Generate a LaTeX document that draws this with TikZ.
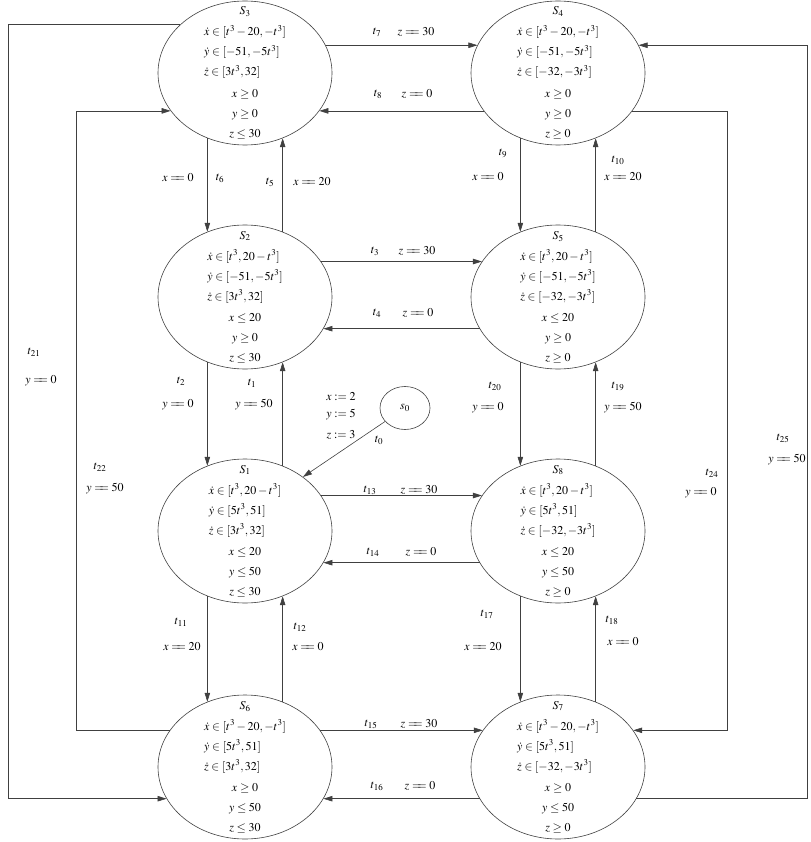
\documentclass[tikz,border=0pt]{standalone}
\usepackage{mathptmx}
\usetikzlibrary{shapes.geometric,arrows.meta,calc}
\newcommand\eqq{\mathrel{=\mkern-6mu=}}
\tikzset{
  st/.style={draw=black!75, line width=0.6pt, ellipse, minimum width=174pt, minimum height=144pt, inner sep=0pt},
  stxt/.style={anchor=base, inner sep=0pt, font=\fontsize{12}{20}\selectfont},
  lab/.style={inner sep=0pt, font=\fontsize{12}{14}\selectfont},
  arr/.style={-{Triangle[length=9pt,width=5.5pt]}, line width=0.6pt, draw=black!75},
  zero/.style={draw=black!75, line width=0.6pt, ellipse, minimum width=50pt, minimum height=43pt, inner sep=0pt, font=\fontsize{12}{14}\selectfont}
}
\newcommand\mkstate[9]{%
  \node[st] (#1) at #2 {};
  \node[stxt] (#1t) at ($(#1.center)+(0,-58)$) {\begin{tabular}[t]{@{}l@{}}
    \multicolumn{1}{@{}c@{}}{$#3$}\\[1pt]
    $#4$\\ $#5$\\ $#6$\\[1.5pt]
    \multicolumn{1}{@{}c@{}}{$#7$}\\ \multicolumn{1}{@{}c@{}}{$#8$}\\ \multicolumn{1}{@{}c@{}}{$#9$}
  \end{tabular}};
}
\begin{document}
\begin{tikzpicture}[x=1pt,y=-1pt]
\useasboundingbox (0,0) rectangle (810,842);
% states
\mkstate{S3}{(245,73)}{S_3}{\dot x\in[t^3-20,-t^3]}{\dot y\in[-51,-5t^3]}{\dot z\in[3t^3,32]}{x\ge 0}{y\ge 0}{z\le 30}
\mkstate{S4}{(558,73)}{S_4}{\dot x\in[t^3-20,-t^3]}{\dot y\in[-51,-5t^3]}{\dot z\in[-32,-3t^3]}{x\ge 0}{y\ge 0}{z\ge 0}
\mkstate{S2}{(245,297)}{S_2}{\dot x\in[t^3,20-t^3]}{\dot y\in[-51,-5t^3]}{\dot z\in[3t^3,32]}{x\le 20}{y\ge 0}{z\le 30}
\mkstate{S5}{(558,297)}{S_5}{\dot x\in[t^3,20-t^3]}{\dot y\in[-51,-5t^3]}{\dot z\in[-32,-3t^3]}{x\le 20}{y\ge 0}{z\ge 0}
\mkstate{S1}{(245,531)}{S_1}{\dot x\in[t^3,20-t^3]}{\dot y\in[5t^3,51]}{\dot z\in[3t^3,32]}{x\le 20}{y\le 50}{z\le 30}
\mkstate{S8}{(558,531)}{S_8}{\dot x\in[t^3,20-t^3]}{\dot y\in[5t^3,51]}{\dot z\in[-32,-3t^3]}{x\le 20}{y\le 50}{z\ge 0}
\mkstate{S6}{(245,767)}{S_6}{\dot x\in[t^3-20,-t^3]}{\dot y\in[5t^3,51]}{\dot z\in[3t^3,32]}{x\ge 0}{y\le 50}{z\le 30}
\mkstate{S7}{(558,767)}{S_7}{\dot x\in[t^3-20,-t^3]}{\dot y\in[5t^3,51]}{\dot z\in[-32,-3t^3]}{x\ge 0}{y\le 50}{z\ge 0}
\node[zero] (s0) at (405,408) {$s_0$};
% outer corner coordinates
\coordinate (L21) at (8,0);
\coordinate (L22) at (76,0);
\coordinate (L24) at (727,0);
\coordinate (L25) at (807,0);
% horizontal edges
\draw[arr] (S3.19) -- (S4.161);
\draw[arr] (S4.207) -- (S3.333);
\draw[arr] (S2.25) -- (S5.155);
\draw[arr] (S5.202) -- (S2.338);
\draw[arr] (S1.25) -- (S8.155);
\draw[arr] (S8.202) -- (S1.338);
\draw[arr] (S6.26) -- (S7.154);
\draw[arr] (S7.202) -- (S6.338);
% vertical edges
\draw[arr] (S3.240) -- (S2.120);
\draw[arr] (S2.60) -- (S3.300);
\draw[arr] (S2.240) -- (S1.120);
\draw[arr] (S1.60) -- (S2.300);
\draw[arr] (S1.240) -- (S6.120);
\draw[arr] (S6.60) -- (S1.300);
\draw[arr] (S4.240) -- (S5.120);
\draw[arr] (S5.60) -- (S4.300);
\draw[arr] (S5.240) -- (S8.120);
\draw[arr] (S8.60) -- (S5.300);
\draw[arr] (S8.240) -- (S7.120);
\draw[arr] (S7.60) -- (S8.300);
% outer loops
\draw[arr] (S3.143) -- (S3.143 -| L21) -- (S6.202 -| L21) -- (S6.202);
\draw[arr] (S6.154) -- (S6.154 -| L22) -- (S3.207 -| L22) -- (S3.207);
\draw[arr] (S4.333) -- (S4.333 -| L24) -- (S7.26 -| L24) -- (S7.26);
\draw[arr] (S7.338) -- (S7.338 -| L25) -- (S4.19 -| L25) -- (S4.19);
% initial
\draw[arr] (s0) -- (S1.43);
% labels
\node[lab] (a7) at (377,32) {$t_7$};   \node[lab] (b7) at (416,32) {$z\eqq 30$};
\node[lab] (a8) at (378,94) {$t_8$};   \node[lab] (b8) at (417,94) {$z\eqq 0$};
\node[lab] (a3) at (375,251) {$t_3$};  \node[lab] (b3) at (417,251) {$z\eqq 30$};
\node[lab] (a4) at (377,313) {$t_4$};  \node[lab] (b4) at (418,313) {$z\eqq 0$};
\node[lab] (a13) at (370,490) {$t_{13}$}; \node[lab] (b13) at (419,490) {$z\eqq 30$};
\node[lab] (a14) at (373,552) {$t_{14}$}; \node[lab] (b14) at (421,552) {$z\eqq 0$};
\node[lab] (a15) at (371,724) {$t_{15}$}; \node[lab] (b15) at (419,724) {$z\eqq 30$};
\node[lab] (a16) at (377,786) {$t_{16}$}; \node[lab] (b16) at (420,786) {$z\eqq 0$};
\node[lab] (b6) at (178,178) {$x\eqq 0$}; \node[lab] (a6) at (220,178) {$t_6$};
\node[lab] (a5) at (270,182) {$t_5$};   \node[lab] (b5) at (312,182) {$x\eqq 20$};
\node[lab] (a2) at (181,381) {$t_2$};   \node[lab] (b2) at (178,405) {$y\eqq 0$};
\node[lab] (a1) at (252,383) {$t_1$};   \node[lab] (b1) at (254,405) {$y\eqq 50$};
\node[lab] (a11) at (181,622) {$t_{11}$}; \node[lab] (b11) at (182,647) {$x\eqq 20$};
\node[lab] (a12) at (300,627) {$t_{12}$}; \node[lab] (b12) at (308,647) {$x\eqq 0$};
\node[lab] (a9) at (503,153) {$t_9$};   \node[lab] (b9) at (488,177) {$x\eqq 0$};
\node[lab] (a10) at (618,160) {$t_{10}$}; \node[lab] (b10) at (623,177) {$x\eqq 20$};
\node[lab] (a20) at (495,386) {$t_{20}$}; \node[lab] (b20) at (488,408) {$y\eqq 0$};
\node[lab] (a19) at (618,386) {$t_{19}$}; \node[lab] (b19) at (623,408) {$y\eqq 50$};
\node[lab] (a17) at (487,614) {$t_{17}$}; \node[lab] (b17) at (483,647) {$x\eqq 20$};
\node[lab] (a18) at (612,620) {$t_{18}$}; \node[lab] (b18) at (623,642) {$x\eqq 0$};
\node[lab] (a21) at (34,352) {$t_{21}$}; \node[lab] (b21) at (41,381) {$y\eqq 0$};
\node[lab] (a22) at (100,467) {$t_{22}$}; \node[lab] (b22) at (105,489) {$y\eqq 50$};
\node[lab] (a24) at (712,473) {$t_{24}$}; \node[lab] (b24) at (701,493) {$y\eqq 0$};
\node[lab] (a25) at (783,438) {$t_{25}$}; \node[lab] (b25) at (787,460) {$y\eqq 50$};
\node[lab] (a0) at (379,440) {$t_0$};
\node[lab] (i1) at (341,397) {$x\mathrel{:=}2$};
\node[lab] (i2) at (341,415) {$y\mathrel{:=}5$};
\node[lab] (i3) at (341,435) {$z\mathrel{:=}3$};
\end{tikzpicture}
\end{document}
